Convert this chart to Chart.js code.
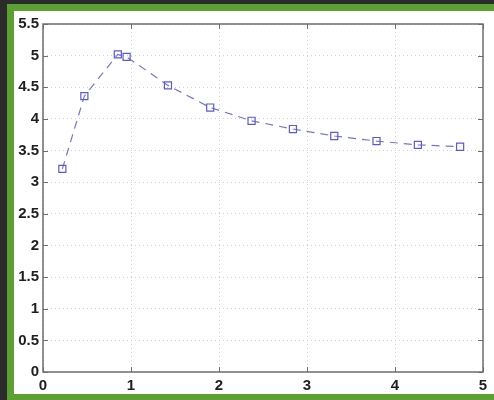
<!DOCTYPE html>
<html>
<head>
<meta charset="utf-8">
<script src="https://cdn.jsdelivr.net/npm/chart.js@4"></script>
<style>
    html, body { margin: 0; padding: 0; }
    body { width: 494px; height: 400px; background: #2b2b2b; position: relative; overflow: hidden; }
    #frame { position: absolute; left: 7px; top: 4px; width: 487px; height: 396px; background: #5c9f33; }
    #plot { position: absolute; left: 14px; top: 11px; width: 480px; height: 383px; background: #fff; }
</style>
</head>
<body>
<div id="frame"></div>
<div id="plot"><canvas id="chart" width="480" height="383"></canvas></div>
<script>
// values
const xValues = [0.22, 0.47, 0.85, 0.95, 1.42, 1.90, 2.37, 2.84, 3.31, 3.79, 4.26, 4.74];
const yValues = [3.21, 4.36, 5.02, 4.98, 4.53, 4.18, 3.97, 3.84, 3.73, 3.65, 3.59, 3.56];
const xTicks = [0, 1, 2, 3, 4, 5];
const yTicks = [0, 0.5, 1, 1.5, 2, 2.5, 3, 3.5, 4, 4.5, 5, 5.5];

const lineColor = '#7373de';
const tickFont = { family: 'Liberation Sans, Arial, sans-serif', size: 15, weight: 'bold' };

/**
 * Box around the plot with inward tick marks (MATLAB style)
 */
const boxPlugin = {
    id: 'box',
    afterDraw(chart) {
        const ctx = chart.ctx;
        const a = chart.chartArea;
        const xs = chart.scales.x;
        const ys = chart.scales.y;
        const len = 5;
        ctx.save();
        ctx.strokeStyle = '#6e6e6e';
        ctx.lineWidth = 1;
        ctx.beginPath();
        xTicks.forEach(function (v) {
            const px = Math.round(xs.getPixelForValue(v)) + 0.5;
            ctx.moveTo(px, a.bottom); ctx.lineTo(px, a.bottom - len);
            ctx.moveTo(px, a.top); ctx.lineTo(px, a.top + len);
        });
        yTicks.forEach(function (v) {
            const py = Math.round(ys.getPixelForValue(v)) + 0.5;
            ctx.moveTo(a.left, py); ctx.lineTo(a.left + len, py);
            ctx.moveTo(a.right, py); ctx.lineTo(a.right - len, py);
        });
        ctx.stroke();
        ctx.lineWidth = 1.5;
        ctx.strokeRect(a.left, a.top, a.right - a.left, a.bottom - a.top);
        ctx.restore();
    }
};

new Chart(document.getElementById('chart'), {
    type: 'scatter',
    data: {
        datasets: [{
            data: xValues.map((x, i) => ({ x: x, y: yValues[i] })),
            showLine: true,
            borderColor: lineColor,
            borderWidth: 1.2,
            borderDash: [8, 6],
            pointStyle: 'rect',
            pointRadius: 5,
            pointHoverRadius: 5,
            pointBorderWidth: 1.2,
            pointBorderColor: '#5a5ad8',
            pointBackgroundColor: 'rgba(0,0,0,0)'
        }]
    },
    options: {
        responsive: false,
        animation: false,
        events: [],
        layout: { padding: { top: 10, right: 11, left: 0, bottom: 0 } },
        plugins: {
            legend: { display: false },
            tooltip: { enabled: false }
        },
        scales: {
            x: {
                type: 'linear',
                min: 0,
                max: 5,
                afterBuildTicks: function (scale) {
                    scale.ticks = xTicks.map(v => ({ value: v }));
                },
                afterFit: function (scale) { scale.height = 22; },
                grid: { color: '#cfcfcf', drawTicks: false, lineWidth: 1 },
                border: { display: false, dash: [1, 3] },
                ticks: { color: '#1e1e1e', font: tickFont, padding: 5, maxRotation: 0, callback: v => String(v) }
            },
            y: {
                type: 'linear',
                min: 0,
                max: 5.5,
                afterBuildTicks: function (scale) {
                    scale.ticks = yTicks.map(v => ({ value: v }));
                },
                afterFit: function (scale) { scale.width = 29; },
                grid: { color: '#cfcfcf', drawTicks: false, lineWidth: 1 },
                border: { display: false, dash: [1, 3] },
                ticks: { color: '#1e1e1e', font: tickFont, padding: 4, callback: v => String(v) }
            }
        }
    },
    plugins: [boxPlugin]
});
</script>
</body>
</html>
